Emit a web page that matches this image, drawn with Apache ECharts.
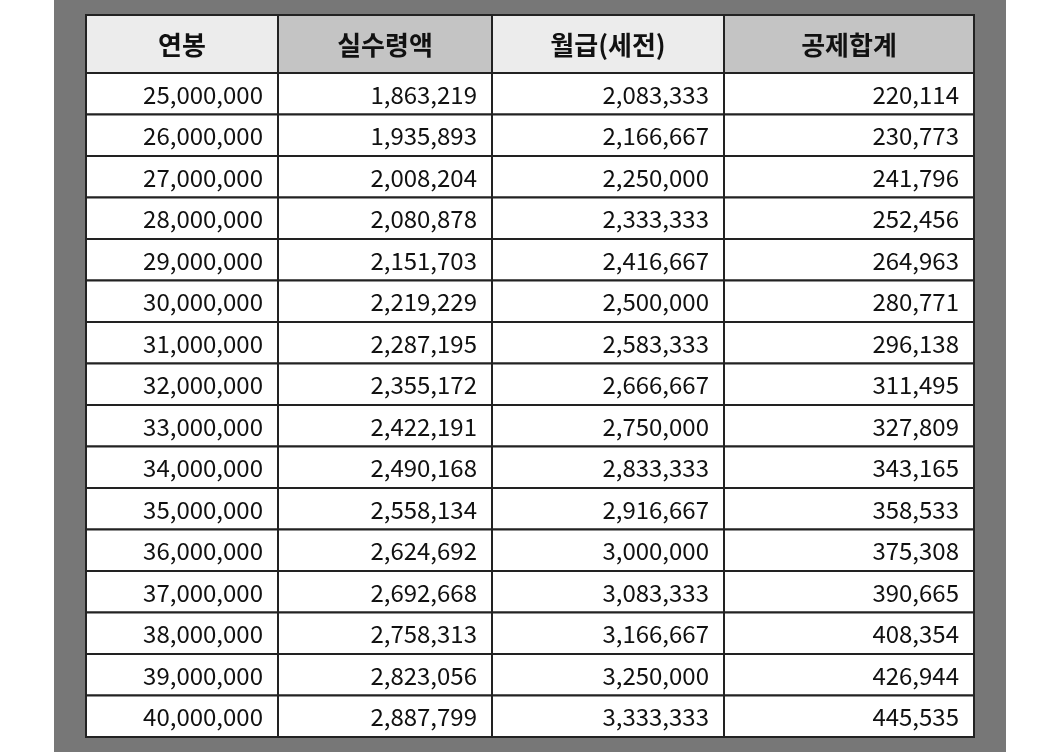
<!DOCTYPE html><html><head><meta charset="utf-8"><script src="https://cdn.jsdelivr.net/npm/echarts@6/dist/echarts.min.js"></script>
<style>html,body{margin:0;background:#fff}#c{width:1048px;height:752px}</style></head><body><div id="c"></div><script>
const headers=['연봉','실수령액','월급(세전)','공제합계'];
const salary=['25,000,000','26,000,000','27,000,000','28,000,000','29,000,000','30,000,000','31,000,000','32,000,000','33,000,000','34,000,000','35,000,000','36,000,000','37,000,000','38,000,000','39,000,000','40,000,000'];
const net=['1,863,219','1,935,893','2,008,204','2,080,878','2,151,703','2,219,229','2,287,195','2,355,172','2,422,191','2,490,168','2,558,134','2,624,692','2,692,668','2,758,313','2,823,056','2,887,799'];
const gross=['2,083,333','2,166,667','2,250,000','2,333,333','2,416,667','2,500,000','2,583,333','2,666,667','2,750,000','2,833,333','2,916,667','3,000,000','3,083,333','3,166,667','3,250,000','3,333,333'];
const deduct=['220,114','230,773','241,796','252,456','264,963','280,771','296,138','311,495','327,809','343,165','358,533','375,308','390,665','408,354','426,944','445,535'];
const colEdges=[0,192,406,638,888];
const headerH=1.4;
const cols=[salary,net,gross,deduct];
const hdrFill=['#ececec','#c4c4c4','#ececec','#c4c4c4'];
const data=[];
for(let c=0;c<4;c++){data.push([c,-1,headers[c]]);for(let r=0;r<16;r++)data.push([c,r,cols[c][r]]);}
const chart=echarts.init(document.getElementById('c'));
chart.setOption({
 backgroundColor:'#fff',
 graphic:[{type:'rect',shape:{x:54,y:0,width:952,height:752},style:{fill:'#777'},z:-10}],
 grid:{left:86,right:74,top:15,bottom:15},
 xAxis:{type:'value',min:0,max:888,show:false},
 yAxis:{type:'value',min:0,max:16+headerH,inverse:true,show:false},
 series:[{type:'custom',data:data,renderItem:function(p,api){
  const c=api.value(0),r=api.value(1),t=data[p.dataIndex][2];
  const y0=r<0?0:headerH+r,y1=r<0?headerH:headerH+r+1;
  const a=api.coord([colEdges[c],y0]),b=api.coord([colEdges[c+1],y1]);
  const isH=r<0;
  return {type:'group',children:[
   {type:'rect',shape:{x:a[0],y:a[1],width:b[0]-a[0],height:b[1]-a[1]},style:{fill:isH?hdrFill[c]:'#fff',stroke:'#222',lineWidth:2}},
   {type:'text',style:{text:t,x:isH?(a[0]+b[0])/2:b[0]-15,y:(a[1]+b[1])/2+1,align:isH?'center':'right',verticalAlign:'middle',fontFamily:'Noto Sans CJK KR',fontSize:isH?26:24,fontWeight:isH?'bold':'normal',fill:'#111'}}
  ]};
 }}]
});
</script></body></html>
